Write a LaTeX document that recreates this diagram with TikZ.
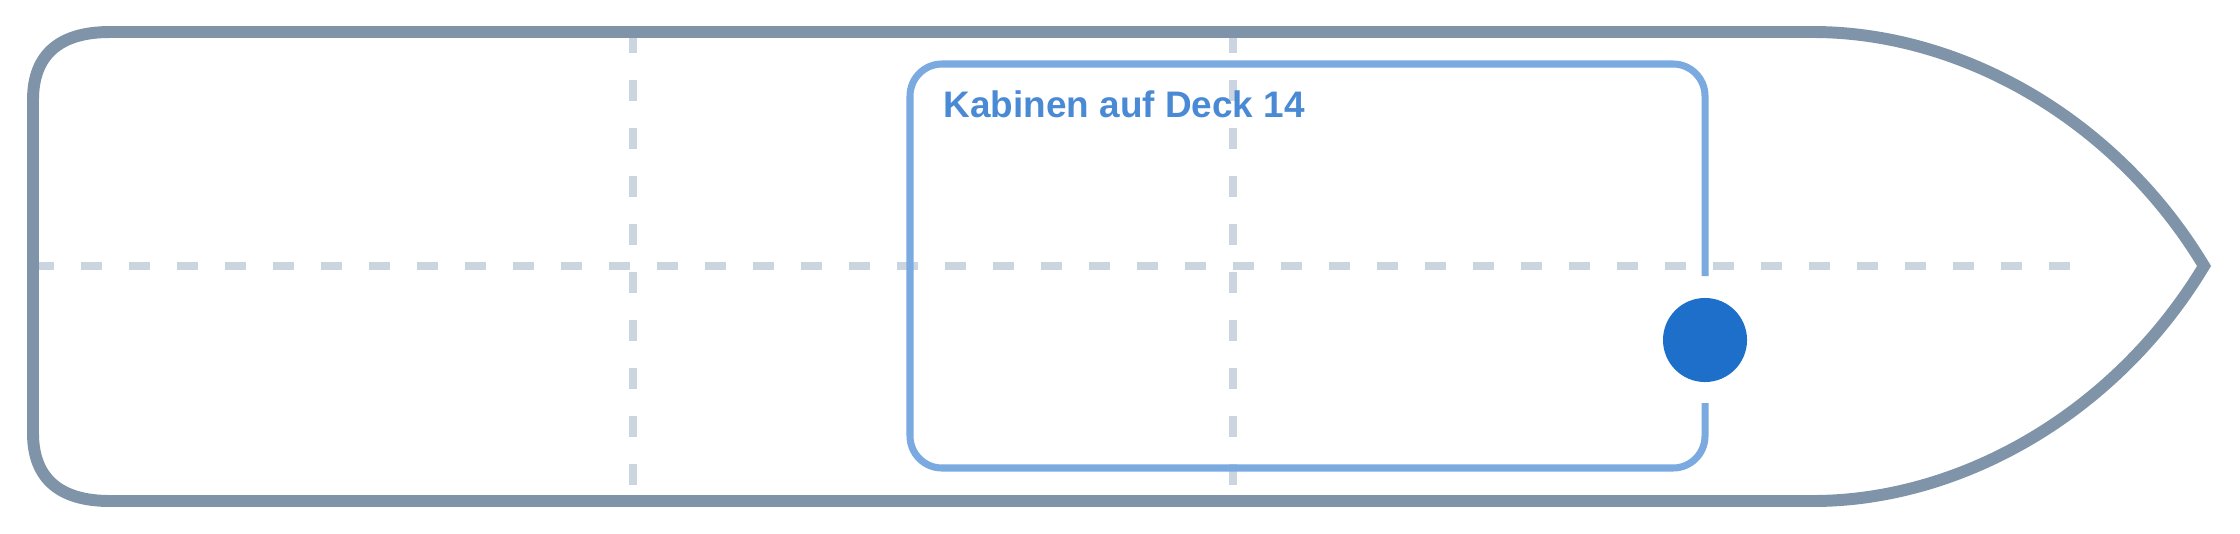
\documentclass[tikz,border=0pt]{standalone}
\usepackage{fontspec}
\usepackage{xcolor}
\newfontfamily\labelfont{Liberation Sans}
\definecolor{hullgray}{HTML}{7F94A8}
\definecolor{gridgray}{HTML}{CBD5E0}
\definecolor{cabinblue}{HTML}{7AAAE0}
\definecolor{markblue}{HTML}{1D6FCA}
\definecolor{titleblue}{HTML}{4A8AD4}
\tikzset{
  hull/.style={draw=hullgray, line width=3.4pt, line join=miter},
  gridline/.style={draw=gridgray, line width=2.3pt, dash pattern=on 5.97pt off 7.68pt},
  cabinbox/.style={draw=cabinblue, line width=2pt, rounded corners=0.32cm},
  marker/.style={circle, fill=markblue, minimum size=0.84cm, inner sep=0pt}
}

\begin{document}
\begin{tikzpicture}[x=0.01cm, y=-0.01cm]
\useasboundingbox (0,0) rectangle (2240,533);
% grid lines
\draw[gridline] (33,266) -- (2080,266);
\draw[gridline] (633,32) -- (633,501);
\draw[gridline] (1233,32) -- (1233,501);
% hull
\draw[hull] (110,32) -- (1813,32)
      .. controls (1960,32) and (2115,118) .. (2204,266)
      .. controls (2115,414) and (1960,501) .. (1813,501)
      -- (110,501) .. controls (59,501) and (33,478) .. (33,433)
      -- (33,100) .. controls (33,55) and (59,32) .. (110,32) -- cycle;
% cabins
\draw[cabinbox] (1705,276) -- (1705,64) -- (910,64) -- (910,468)
      -- (1705,468) -- (1705,403);
\node[anchor=base west, inner sep=0pt, text=titleblue,
      font=\labelfont\bfseries\fontsize{10.5}{12}\selectfont]
      (title) at (943,117) {Kabinen auf Deck 14};
\node[marker] (pos) at (1705,340) {};
\end{tikzpicture}
\end{document}
